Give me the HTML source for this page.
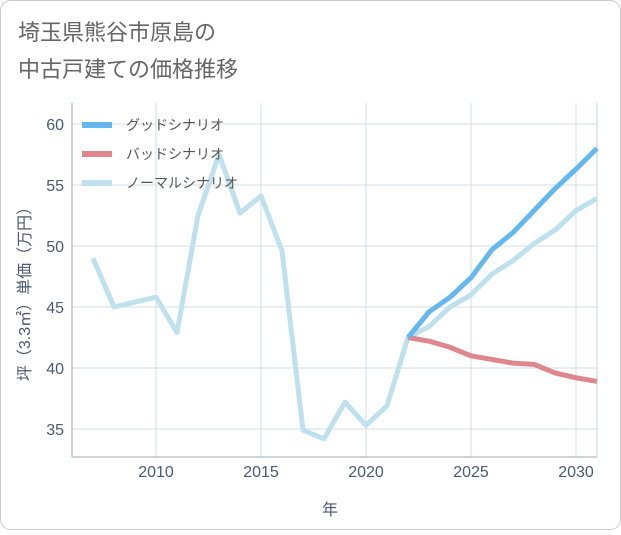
<!DOCTYPE html>
<html><head><meta charset="utf-8"><style>
body{margin:0;background:#fff;}
svg text{font-family:"Liberation Sans","Noto Sans CJK JP",sans-serif;}
</style></head><body>
<svg width="621" height="530" xmlns="http://www.w3.org/2000/svg">
<rect x="0.5" y="0.5" width="620" height="529" rx="10" fill="#fff" stroke="#ccc"/>
<text x="18" y="40" font-size="22" fill="#666">埼玉県熊谷市原島の</text>
<text x="18" y="77" font-size="22" fill="#666">中古戸建ての価格推移</text>
<g id="grid"></g>
<line x1="72" y1="103" x2="72" y2="457" stroke="#9aabb8"/>
<line x1="72" y1="457" x2="597" y2="457" stroke="#9aabb8"/>
<line x1="597" y1="103" x2="597" y2="457" stroke="#c5d2dd"/>
<g id="series"></g><g id="legend"></g>
<text x="330" y="515" font-size="16" fill="#4a5a70" text-anchor="middle">年</text>
<text transform="translate(30,290) rotate(-90)" font-size="16" fill="#4a5a70" text-anchor="middle">坪（3.3㎡）単価（万円）</text>
</svg>
<script>
const years=[2007,2008,2009,2010,2011,2012,2013,2014,2015,2016,2017,2018,2019,2020,2021,2022,2023,2024,2025,2026,2027,2028,2029,2030,2031];
const normal=[49,45,45.4,45.8,42.9,52.5,57.5,52.7,54.1,49.6,34.9,34.2,37.2,35.3,36.9,42.5,43.4,45,46,47.7,48.8,50.2,51.3,52.9,53.9];
const forecastYears=[2022,2023,2024,2025,2026,2027,2028,2029,2030,2031];
const good=[42.5,44.6,45.8,47.4,49.7,51.1,52.9,54.7,56.3,58];
const bad=[42.5,42.2,41.7,41,40.7,40.4,40.3,39.6,39.2,38.9];
const xTicks=[2010,2015,2020,2025,2030];
const yTicks=[35,40,45,50,55,60];
const NS="http://www.w3.org/2000/svg";
const X=y=>156+(y-2010)*21;
const Y=v=>124+(60-v)*12.2;
const grid=document.getElementById('grid');
function mk(t,a,p){const e=document.createElementNS(NS,t);for(const k in a)e.setAttribute(k,a[k]);p.appendChild(e);return e;}
xTicks.forEach(t=>{
 const l=mk('line',{x1:X(t),x2:X(t),y1:103,y2:457,stroke:'#d3dde6'},grid);
 
 
 const tx=mk('text',{x:X(t),y:477,'font-size':16,fill:'#4a5a70','text-anchor':'middle'},grid);tx.textContent=t;
 
 
});
yTicks.forEach(t=>{
 const l=mk('line',{x1:72,x2:597,y1:Y(t),y2:Y(t),stroke:'#d3dde6'},grid);
 
 
 const tx=mk('text',{x:64,y:Y(t)+6,'font-size':16,fill:'#4a5a70','text-anchor':'end'},grid);tx.textContent=t;
 
 
});
const sg=document.getElementById('series');
function line(xs,vs,c,name){
 const p=mk('polyline',{points:xs.map((x,i)=>X(x)+','+Y(vs[i])).join(' '),fill:'none',stroke:c,'stroke-width':5,'stroke-linejoin':'round'},sg);
 
 
}
line(years,normal,'#bfe1ee','normal-scenario-line');
line(forecastYears,bad,'#e0868d','bad-scenario-line');
line(forecastYears,good,'#65b8ee','good-scenario-line');
const lg=document.getElementById('legend');
[['グッドシナリオ','#65b8ee','legend-good'],['バッドシナリオ','#e0868d','legend-bad'],['ノーマルシナリオ','#bfe1ee','legend-normal']].forEach((d,i)=>{
 const y=125+i*29;
 const g=mk('g',{},lg);
 
 
 mk('line',{x1:82,x2:112,y1:y,y2:y,stroke:d[1],'stroke-width':6},g);
 const t=mk('text',{x:126,y:y+5,'font-size':14,fill:'#555'},g);t.textContent=d[0];
});
</script>
</body></html>
